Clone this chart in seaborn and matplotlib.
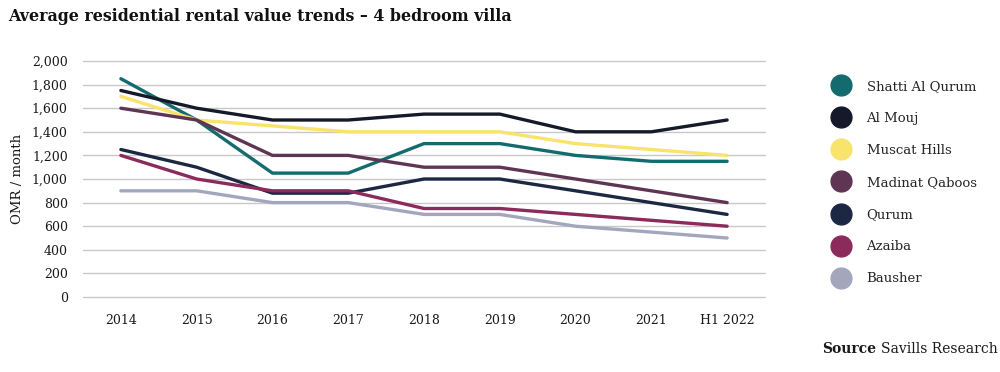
import matplotlib
matplotlib.use("Agg")
import matplotlib.pyplot as plt
from matplotlib.lines import Line2D
import seaborn as sns
import pandas as pd

# chart data
periods = ["2014", "2015", "2016", "2017", "2018", "2019", "2020", "2021", "H1 2022"]
shatti_al_qurum = [1850, 1500, 1050, 1050, 1300, 1300, 1200, 1150, 1150]
al_mouj = [1750, 1600, 1500, 1500, 1550, 1550, 1400, 1400, 1500]
muscat_hills = [1700, 1500, 1450, 1400, 1400, 1400, 1300, 1250, 1200]
madinat_qaboos = [1600, 1500, 1200, 1200, 1100, 1100, 1000, 900, 800]
qurum = [1250, 1100, 880, 880, 1000, 1000, 900, 800, 700]
azaiba = [1200, 1000, 900, 900, 750, 750, 700, 650, 600]
bausher = [900, 900, 800, 800, 700, 700, 600, 550, 500]

areas = {
    "Shatti Al Qurum": shatti_al_qurum,
    "Al Mouj": al_mouj,
    "Muscat Hills": muscat_hills,
    "Madinat Qaboos": madinat_qaboos,
    "Qurum": qurum,
    "Azaiba": azaiba,
    "Bausher": bausher,
}
colors = {
    "Shatti Al Qurum": "#146b6e",
    "Al Mouj": "#141a2a",
    "Muscat Hills": "#f8e36c",
    "Madinat Qaboos": "#5e3553",
    "Qurum": "#1c2744",
    "Azaiba": "#8b2a5b",
    "Bausher": "#a3a7bd",
}

rows = []
for name, vals in areas.items():
    for i, v in enumerate(vals):
        rows.append({"area": name, "x": i, "value": v})
df = pd.DataFrame(rows)

sns.set_style("white")
plt.rcParams["font.family"] = ["DejaVu Serif"]

fig = plt.figure(figsize=(10, 3.72), dpi=100)
ax = fig.add_axes([0.083, 0.2016, 0.682, 0.6344])

sns.lineplot(data=df, x="x", y="value", hue="area", palette=colors,
             hue_order=list(areas.keys()), linewidth=2.4, legend=False, ax=ax)

ax.set_xlim(-0.5, len(periods) - 0.5)
ax.set_ylim(0, 2000)
ax.set_yticks(range(0, 2001, 200))
ax.set_yticklabels([f"{v:,}" for v in range(0, 2001, 200)])
ax.set_xticks(range(len(periods)))
ax.set_xticklabels(periods)
ax.tick_params(axis="both", length=0, labelsize=9, colors="#1a1a1a")
ax.tick_params(axis="y", pad=11)
ax.tick_params(axis="x", pad=12)
ax.yaxis.grid(True, color="#c8c8c8", linewidth=1)
for gl in ax.get_ygridlines():
    gl.set_clip_on(False)
ax.set_axisbelow(True)
for s in ax.spines.values():
    s.set_visible(False)
ax.set_xlabel("")
ax.set_ylabel("OMR / month", fontsize=9.5, color="#1a1a1a", labelpad=6)

handles = [Line2D([], [], marker="o", linestyle="", markersize=15,
                  markerfacecolor=colors[n], markeredgecolor=colors[n]) for n in areas]
fig.legend(handles, list(areas.keys()), loc="upper left", bbox_to_anchor=(0.823, 0.80),
           frameon=False, fontsize=9.5, labelspacing=1.45, handletextpad=0.9,
           borderaxespad=0)

fig.text(0.008, 0.955, "Average residential rental value trends \u2013 4 bedroom villa",
         fontsize=11.4, fontweight="bold", ha="left", va="center", color="#111111")

# source line: bold "Source" placed right before the regular text
src = fig.text(0.998, 0.062, "Savills Research", fontsize=10, ha="right", va="center",
               color="#1a1a1a")
fig.canvas.draw()
bb = src.get_window_extent().transformed(fig.transFigure.inverted())
fig.text(bb.x0 - 0.005, 0.062, "Source", fontsize=10, fontweight="bold", ha="right",
         va="center", color="#1a1a1a")

fig.savefig("out.png", dpi=100)
